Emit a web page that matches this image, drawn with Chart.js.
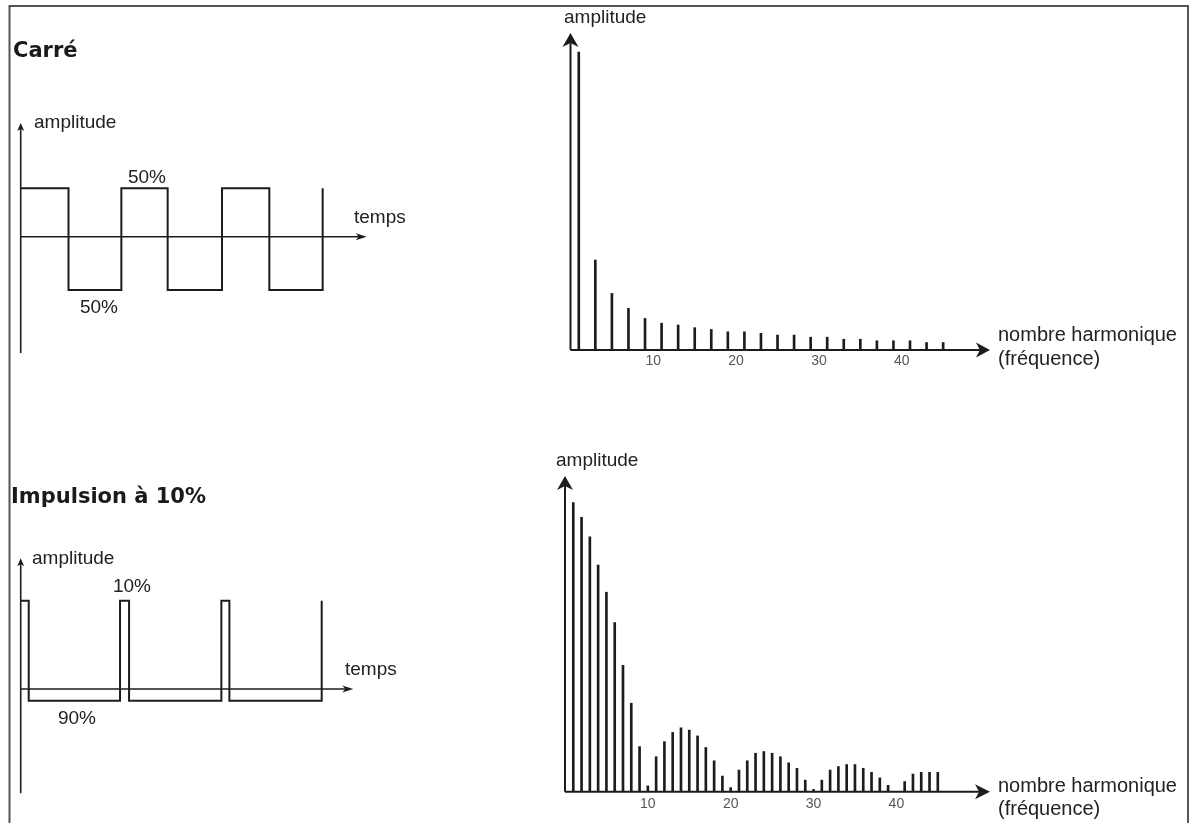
<!DOCTYPE html>
<html><head><meta charset="utf-8">
<script src="https://cdn.jsdelivr.net/npm/chart.js@4.4.1/dist/chart.umd.min.js"></script>
<style>
html,body{margin:0;padding:0;background:#fff;}
#wrap{position:relative;width:1190px;height:823px;overflow:hidden;background:#fff;}
#wrap canvas{position:absolute;left:0;top:0;}
</style></head><body><div id="wrap">
<canvas id="cSquare" width="1190" height="823"></canvas>
<canvas id="cSquareSpec" width="1190" height="823"></canvas>
<canvas id="cPulse" width="1190" height="823"></canvas>
<canvas id="cPulseSpec" width="1190" height="823"></canvas>
</div>
<script>
// ---------- DATA ----------
// Square wave (time in half-periods): edge times and level after each edge
const squareEdges  = [0, 0.95, 2.0, 2.92, 4.0, 4.94, 6.0];
const squareLevels = [1, -1.1, 1, -1.1, 1, -1.1, 1];
// 10% pulse (time in periods)
const pulseEdges  = [0, 0.08, 0.99, 1.08, 2.0, 2.08, 3.0];
const pulseLevels = [0.9, -0.12, 0.9, -0.12, 0.9, -0.12, 0.9];
// Square spectrum: odd harmonics
const squareHarmonics = [1, 3, 5, 7, 9, 11, 13, 15, 17, 19, 21, 23, 25, 27, 29, 31, 33, 35, 37, 39, 41, 43, 45];
const squareAmplitudes = [100, 30.2, 19, 14, 10.6, 9, 8.4, 7.5, 6.9, 6.1, 6.1, 5.6, 5, 5, 4.3, 4.3, 3.6, 3.6, 3.1, 3.1, 3.1, 2.5, 2.5];
// Pulse spectrum: all harmonics
const pulseHarmonics = [1, 2, 3, 4, 5, 6, 7, 8, 9, 10, 11, 12, 13, 14, 15, 16, 17, 18, 19, 20, 21, 22, 23, 24, 25, 26, 27, 28, 29, 30, 31, 32, 33, 34, 35, 36, 37, 38, 39, 40, 41, 42, 43, 44, 45];
const pulseAmplitudes = [100, 94.9, 88.2, 78.4, 69, 58.5, 43.7, 30.6, 15.6, 2, 12.1, 17.3, 20.5, 22.1, 21.3, 19.3, 15.3, 10.7, 5.4, 1.4, 7.5, 10.7, 13.3, 13.9, 13.3, 12.1, 10, 8.1, 4, 0.8, 4, 7.5, 8.7, 9.4, 9.4, 8.1, 6.7, 4.8, 2.2, 0, 3.5, 6.1, 6.7, 6.7, 6.7];
const harmonicTicks = [10, 20, 30, 40];

// ---------- HELPERS ----------
const INK = '#1c1c1c';
const TXT = "'Liberation Sans', Arial, sans-serif";
const BOLD = "bold 21px 'DejaVu Sans', Verdana, sans-serif";

function arrowHead(ctx, tipX, tipY, dir, len, wid) {
  ctx.beginPath();
  if (dir === 'up') {
    ctx.moveTo(tipX, tipY);
    ctx.lineTo(tipX - wid / 2, tipY + len);
    ctx.lineTo(tipX, tipY + len * 0.72);
    ctx.lineTo(tipX + wid / 2, tipY + len);
  } else {
    ctx.moveTo(tipX, tipY);
    ctx.lineTo(tipX - len, tipY - wid / 2);
    ctx.lineTo(tipX - len * 0.72, tipY);
    ctx.lineTo(tipX - len, tipY + wid / 2);
  }
  ctx.closePath();
  ctx.fill();
}

const axisArrows = {
  id: 'axisArrows',
  afterDraw(chart, args, o) {
    const ctx = chart.ctx;
    const xs = chart.scales.x, ys = chart.scales.y;
    const x0 = xs.getPixelForValue(0), y0 = ys.getPixelForValue(0);
    const yTop = ys.getPixelForValue(ys.max), yBot = ys.getPixelForValue(ys.min);
    const xEnd = xs.getPixelForValue(xs.max);
    ctx.save();
    ctx.strokeStyle = INK; ctx.fillStyle = INK; ctx.lineWidth = o.lineWidth;
    ctx.beginPath();
    ctx.moveTo(x0, yBot); ctx.lineTo(x0, yTop + o.yArrow[0] * 0.6);
    ctx.moveTo(x0, y0); ctx.lineTo(xEnd - o.xArrow[0] * 0.6, y0);
    ctx.stroke();
    arrowHead(ctx, x0, yTop, 'up', o.yArrow[0], o.yArrow[1]);
    arrowHead(ctx, xEnd, y0, 'right', o.xArrow[0], o.xArrow[1]);
    if (o.ticks) {
      ctx.font = "14px " + TXT; ctx.fillStyle = '#555';
      ctx.textAlign = 'center'; ctx.textBaseline = 'middle';
      o.ticks.forEach(t => ctx.fillText(String(t), xs.getPixelForValue(t), y0 + o.tickOffset));
    }
    ctx.fillStyle = '#222'; ctx.textBaseline = 'alphabetic';
    (o.labels || []).forEach(l => {
      ctx.font = l.font || ("19px " + TXT);
      ctx.textAlign = l.align || 'left';
      ctx.fillText(l.text, l.x, l.y);
    });
    ctx.restore();
  }
};

const pageDecor = {
  id: 'pageDecor',
  beforeDraw(chart) {
    const ctx = chart.ctx;
    ctx.save();
    ctx.fillStyle = '#fff';
    ctx.fillRect(0, 0, chart.width, chart.height);
    ctx.strokeStyle = '#555'; ctx.lineWidth = 2;
    ctx.beginPath();
    ctx.moveTo(9.5, 840); ctx.lineTo(9.5, 6); ctx.lineTo(1188, 6); ctx.lineTo(1188, 840);
    ctx.stroke();
    ctx.fillStyle = '#1a1a1a'; ctx.font = BOLD; ctx.textAlign = 'left'; ctx.textBaseline = 'alphabetic';
    ctx.fillText('Carré', 13, 57);
    ctx.fillText('Impulsion à 10%', 11, 503);
    ctx.restore();
  }
};

function pad(left, top, right, bottom) {
  return {left: left, top: top, right: 1190 - right, bottom: 823 - bottom};
}

function baseOptions(area, xmax, ymin, ymax, plug) {
  return {
    responsive: false, animation: false, events: [],
    layout: {padding: area},
    plugins: {legend: {display: false}, tooltip: {enabled: false}, title: {display: false}, axisArrows: plug},
    scales: {
      x: {type: 'linear', min: 0, max: xmax, display: false, offset: false, grid: {offset: false}},
      y: {type: 'linear', min: ymin, max: ymax, display: false}
    }
  };
}

// ---------- CHART 1: square wave ----------
new Chart(document.getElementById('cSquare'), {
  type: 'line',
  data: {datasets: [{
    data: squareEdges.map((t, i) => ({x: t, y: squareLevels[i]})),
    stepped: 'before', borderColor: INK, borderWidth: 2, pointRadius: 0, fill: false, clip: false
  }]},
  options: baseOptions(pad(20.7, 123, 366.7, 353), 6.875, -2.403, 2.349, {
    lineWidth: 1.6, yArrow: [8, 7], xArrow: [11, 7],
    labels: [
      {text: 'amplitude', x: 34, y: 128},
      {text: '50%', x: 147, y: 183, align: 'center'},
      {text: '50%', x: 99, y: 313, align: 'center'},
      {text: 'temps', x: 354, y: 223}
    ]
  }),
  plugins: [pageDecor, axisArrows]
});

// ---------- CHART 2: square spectrum ----------
new Chart(document.getElementById('cSquareSpec'), {
  type: 'bar',
  data: {datasets: [{
    data: squareHarmonics.map((h, i) => ({x: h, y: squareAmplitudes[i]})),
    backgroundColor: INK, borderWidth: 0, barThickness: 2, grouped: false, clip: false
  }]},
  options: baseOptions(pad(570.5, 33, 990, 350), 50.66, 0, 106.4, {
    lineWidth: 2, yArrow: [14, 16], xArrow: [14, 15],
    ticks: harmonicTicks, tickOffset: 11,
    labels: [
      {text: 'amplitude', x: 564, y: 23},
      {text: 'nombre harmonique', x: 998, y: 341, font: "20px " + TXT},
      {text: '(fréquence)', x: 998, y: 365, font: "20px " + TXT}
    ]
  }),
  plugins: [axisArrows]
});

// ---------- CHART 3: 10% pulse ----------
new Chart(document.getElementById('cPulse'), {
  type: 'line',
  data: {datasets: [{
    data: pulseEdges.map((t, i) => ({x: t, y: pulseLevels[i]})),
    stepped: 'before', borderColor: INK, borderWidth: 2, pointRadius: 0, fill: false, clip: false
  }]},
  options: baseOptions(pad(20.7, 558.3, 353.3, 793.3), 3.315, -1.064, 1.334, {
    lineWidth: 1.6, yArrow: [8, 7], xArrow: [11, 7],
    labels: [
      {text: 'amplitude', x: 32, y: 564},
      {text: '10%', x: 132, y: 592, align: 'center'},
      {text: '90%', x: 77, y: 724, align: 'center'},
      {text: 'temps', x: 345, y: 675}
    ]
  }),
  plugins: [axisArrows]
});

// ---------- CHART 4: pulse spectrum ----------
new Chart(document.getElementById('cPulseSpec'), {
  type: 'bar',
  data: {datasets: [{
    data: pulseHarmonics.map((h, i) => ({x: h, y: pulseAmplitudes[i]})),
    backgroundColor: INK, borderWidth: 0, barThickness: 2, grouped: false, clip: false
  }]},
  options: baseOptions(pad(565, 476, 990, 791.7), 51.3, 0, 109.2, {
    lineWidth: 2, yArrow: [14, 16], xArrow: [15, 15],
    ticks: harmonicTicks, tickOffset: 12,
    labels: [
      {text: 'amplitude', x: 556, y: 466},
      {text: 'nombre harmonique', x: 998, y: 792, font: "20px " + TXT},
      {text: '(fréquence)', x: 998, y: 815, font: "20px " + TXT}
    ]
  }),
  plugins: [axisArrows]
});
</script>
</body></html>
